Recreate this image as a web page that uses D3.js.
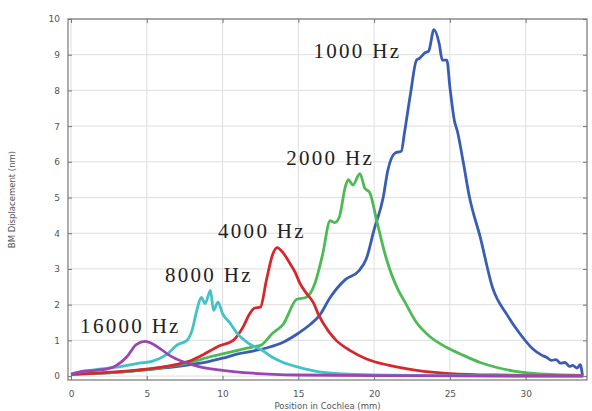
<!DOCTYPE html>
<html>
<head>
<meta charset="utf-8">
<script src="https://cdn.jsdelivr.net/npm/d3@7"></script>
<style>
  body { margin: 0; background: #fff; }
  svg { display: block; }
</style>
</head>
<body>
<svg id="chart"></svg>
<script>
// curves: [position mm, displacement nm]
const hz1000 = [[0,0.05],[2,0.08],[4,0.14],[6,0.22],[8,0.33],[9,0.4],[10,0.5],[11,0.62],[12,0.7],[13,0.8],[14,0.95],[15,1.2],
  [15.8,1.45],[16.4,1.7],[17.1,2.2],[18.1,2.7],[19.0,2.95],[19.5,3.3],[20.0,4.1],[20.6,5.0],[20.9,5.75],[21.4,6.25],[21.8,6.3],
  [22.0,6.8],[22.4,7.9],[22.8,8.85],[23.0,8.9],[23.35,9.05],[23.6,9.1],[23.95,9.7],[24.3,9.3],[24.5,8.85],[24.8,8.85],[25.0,8.1],
  [25.3,7.15],[25.5,6.85],[25.9,5.95],[26.3,5.0],[27,3.9],[27.8,2.5],[28.8,1.7],[29.6,1.2],[30.5,0.75],[31.0,0.6],[31.4,0.52],
  [31.7,0.44],[32.0,0.46],[32.3,0.36],[32.6,0.38],[32.9,0.27],[33.1,0.3],[33.4,0.22],[33.6,0.32],[33.75,0.02]];
const hz2000 = [[0,0.05],[2,0.08],[4,0.14],[6,0.24],[8,0.4],[9,0.52],[10,0.62],[11,0.72],[12,0.82],[12.5,0.86],[13.3,1.2],
  [14.0,1.45],[14.9,2.15],[15.5,2.2],[16.1,2.6],[16.6,3.4],[17.1,4.35],[17.4,4.3],[17.7,4.45],[18.1,5.3],[18.3,5.5],[18.6,5.35],
  [19.06,5.67],[19.4,5.25],[19.7,5.15],[20.2,4.3],[20.8,3.3],[21.6,2.4],[22.0,2.1],[22.8,1.5],[23.7,1.1],[24.8,0.8],[25.9,0.58],
  [27,0.38],[28.1,0.24],[29.2,0.14],[30.3,0.08],[32,0.04],[33.8,0.02]];
const hz4000 = [[0,0.05],[2,0.09],[4,0.15],[6,0.25],[7,0.33],[8,0.45],[8.5,0.55],[9.8,0.85],[10.7,1.0],[11.35,1.37],[11.8,1.75],
  [12.1,1.9],[12.5,1.93],[12.9,2.7],[13.3,3.4],[13.6,3.6],[14.0,3.45],[14.45,3.15],[14.8,2.9],[15.1,2.6],[15.6,2.28],[16.0,2.05],
  [16.3,1.75],[17,1.25],[17.5,1.0],[18.4,0.72],[19.5,0.48],[21,0.3],[22.8,0.16],[25,0.07],[28,0.03],[33.8,0.01]];
const hz8000 = [[0,0.07],[2,0.2],[3,0.25],[4.5,0.36],[5.4,0.42],[6.3,0.6],[7.0,0.87],[7.65,1.0],[8.0,1.3],[8.3,1.84],[8.6,2.2],
  [8.85,2.03],[9.2,2.4],[9.4,1.84],[9.7,2.07],[10.0,1.75],[10.5,1.48],[10.95,1.2],[11.6,0.95],[12.1,0.82],[12.5,0.75],[13.2,0.55],
  [14,0.38],[15,0.25],[16.2,0.13],[18,0.06],[20,0.03],[25,0.01],[33.8,0]];
const hz16000 = [[0,0.05],[0.6,0.12],[1.3,0.15],[2.4,0.2],[3.0,0.3],[3.7,0.55],[4.3,0.88],[4.9,0.97],[5.3,0.92],[5.9,0.76],
  [6.5,0.58],[7.4,0.4],[8.5,0.26],[10,0.16],[12,0.08],[15,0.03],[20,0.01],[33.8,0]];

const seriesNames = ["1000 Hz", "2000 Hz", "4000 Hz", "8000 Hz", "16000 Hz"];
const seriesData = [hz1000, hz2000, hz4000, hz8000, hz16000];
const seriesColors = ["#3a5db4", "#4cbb55", "#d5282d", "#42c2c8", "#9b45b2"];
// where each label sits, in data units
const labelPos = [[16.0, 8.9], [14.2, 5.9], [9.7, 3.87], [6.2, 2.63], [0.6, 1.2]];

const xTicks = [0, 5, 10, 15, 20, 25, 30];
const yTicks = d3.range(0, 11);

const W = 592, H = 411;
const plotL = 68, plotR = 587, plotT = 19, plotB = 380;

const svg = d3.select("#chart").attr("width", W).attr("height", H);

const x = d3.scaleLinear().domain([-0.2, 34.05]).range([plotL, plotR]);
const y = d3.scaleLinear().domain([-0.11, 10]).range([plotB, plotT]);

// grid
svg.append("g")
  .selectAll("line").data(xTicks).join("line")
  .attr("x1", d => x(d)).attr("x2", d => x(d))
  .attr("y1", plotT).attr("y2", plotB)
  .attr("stroke", "#dedede").attr("stroke-width", 1);
svg.append("g")
  .selectAll("line").data(yTicks).join("line")
  .attr("x1", plotL).attr("x2", plotR)
  .attr("y1", d => y(d)).attr("y2", d => y(d))
  .attr("stroke", "#dedede").attr("stroke-width", 1);

// axes with inner ticks
const tickStyle = g => {
  g.select(".domain").remove();
  g.selectAll(".tick line").attr("stroke", "#777");
  g.selectAll(".tick text").attr("fill", "#555").style("font-family", "DejaVu Sans, sans-serif").style("font-size", "9px");
};
svg.append("g").attr("transform", "translate(0," + plotB + ")")
  .call(d3.axisBottom(x).tickValues(xTicks).tickSizeInner(-4).tickPadding(11))
  .call(tickStyle);
svg.append("g").attr("transform", "translate(" + plotL + ",0)")
  .call(d3.axisLeft(y).tickValues(yTicks).tickSizeInner(-4).tickPadding(8))
  .call(tickStyle);
svg.append("g").attr("transform", "translate(0," + plotT + ")")
  .call(d3.axisTop(x).tickValues(xTicks).tickSizeInner(-4).tickFormat(""))
  .call(tickStyle);
svg.append("g").attr("transform", "translate(" + plotR + ",0)")
  .call(d3.axisRight(y).tickValues(yTicks).tickSizeInner(-4).tickFormat(""))
  .call(tickStyle);

// frame
svg.append("rect")
  .attr("x", plotL).attr("y", plotT)
  .attr("width", plotR - plotL).attr("height", plotB - plotT)
  .attr("fill", "none").attr("stroke", "#777").attr("stroke-width", 1.2);

// curves
const line = d3.line().curve(d3.curveMonotoneX).x(d => x(d[0])).y(d => y(d[1]));
svg.append("g")
  .selectAll("path").data(seriesData).join("path")
  .attr("d", line)
  .attr("fill", "none")
  .attr("stroke", (d, i) => seriesColors[i])
  .attr("stroke-width", 2.8)
  .attr("stroke-linejoin", "round");

// frequency labels
svg.append("g")
  .selectAll("text").data(seriesNames).join("text")
  .attr("x", (d, i) => x(labelPos[i][0]))
  .attr("y", (d, i) => y(labelPos[i][1]))
  .style("font-family", "Liberation Serif, Times New Roman, serif")
  .style("font-size", "21px")
  .style("letter-spacing", "2.3px")
  .attr("fill", "#222")
  .text(d => d);

// axis titles
svg.append("text")
  .attr("transform", "translate(15," + ((plotT + plotB) / 2) + ") rotate(-90)")
  .attr("text-anchor", "middle")
  .style("font-family", "DejaVu Sans, sans-serif").style("font-size", "8.5px")
  .attr("fill", "#555")
  .text("BM Displacement (nm)");
svg.append("text")
  .attr("x", (plotL + plotR) / 2).attr("y", 409)
  .attr("text-anchor", "middle")
  .style("font-family", "DejaVu Sans, sans-serif").style("font-size", "8.5px")
  .attr("fill", "#555")
  .text("Position in Cochlea (mm)");
</script>
</body>
</html>
